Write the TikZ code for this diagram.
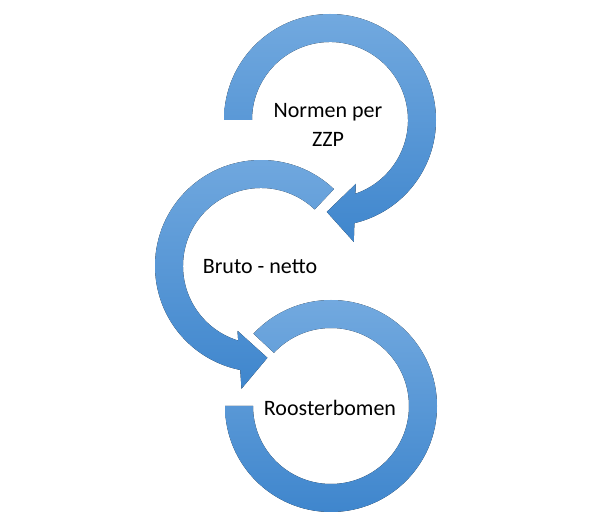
\documentclass[tikz,border=0pt]{standalone}
\usepackage{fontspec}
\setmainfont{Carlito}
\usepackage{xcolor}
\usepackage{tikz}
\usetikzlibrary{calc}
\definecolor{ringtop}{RGB}{114,169,223}
\definecolor{ringbot}{RGB}{63,134,205}

\begin{document}
\begin{tikzpicture}[
      x=1pt, y=1pt,
      ring/.style={top color=ringtop, bottom color=ringbot, draw=none},
      lbl/.style={font=\fontsize{22}{29}\selectfont, align=center, inner sep=0pt}
    ]
    \useasboundingbox (0,0) rectangle (592,514);
    \coordinate (c1) at (330,394);
    \coordinate (c2) at (261,248);
    \coordinate (c3) at (331,108);

    % top ring, clockwise, head at the bottom
    \fill[ring, shift={(c1)}] (180:106) arc[start angle=180, end angle=-76.7, radius=106]
      -- (23.8,-121.9) -- (-3.2,-91.9) -- (25.8,-63.9)
      -- (-71.0:78) arc[start angle=-71.0, end angle=180, radius=78] -- cycle;
    % middle ring, counterclockwise, head at the bottom
    \fill[ring, shift={(c2)}] (46.5:106) arc[start angle=46.5, end angle=258.7, radius=106]
      -- (-19.5,-122.7) -- (6.4,-91.8) -- (-23.5,-64.8)
      -- (253.0:78) arc[start angle=253.0, end angle=46.5, radius=78] -- cycle;
    % bottom ring, no head
    \fill[ring, shift={(c3)}] (180:106) arc[start angle=180, end angle=497, radius=106]
      -- (497:78) arc[start angle=497, end angle=180, radius=78] -- cycle;

    \node[lbl] (normen) at (328,389.5) {Normen per\\ZZP};
    \node[lbl] (bruto) at (260,247) {Bruto - netto};
    \node[lbl] (rooster) at (330,106) {Roosterbomen};
  \end{tikzpicture}
\end{document}
